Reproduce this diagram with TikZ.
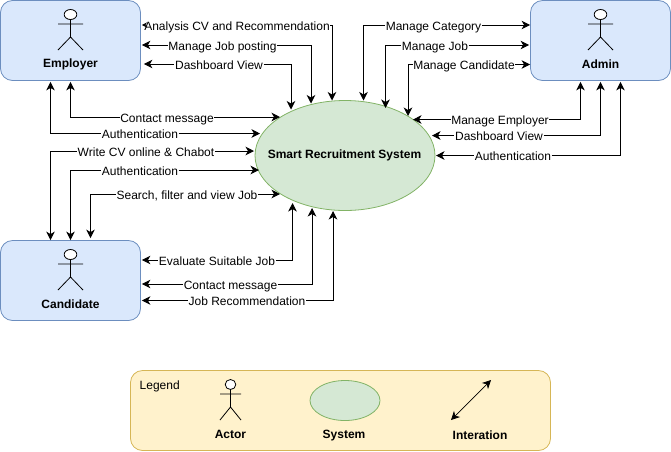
\documentclass[tikz,border=0pt]{standalone}
\usepackage{fontspec}
\setmainfont{Liberation Sans}
\usetikzlibrary{arrows.meta,shapes.geometric}
\definecolor{boxfill}{HTML}{DAE8FC}
\definecolor{boxline}{HTML}{6C8EBF}
\definecolor{sysfill}{HTML}{D5E8D4}
\definecolor{sysline}{HTML}{82B366}
\definecolor{legfill}{HTML}{FFF2CC}
\definecolor{legline}{HTML}{D6B656}
\tikzset{
  actorbox/.style={draw=boxline,fill=boxfill,rounded corners=12pt,minimum width=140pt,minimum height=80pt,line width=0.8pt},
  sysnode/.style={ellipse,draw=sysline,fill=sysfill,inner sep=0pt,line width=0.8pt},
  msg/.style={font=\fontsize{12}{14}\selectfont,inner xsep=0.5pt,inner ysep=0pt,text height=12pt,text depth=2pt},
  title/.style={font=\fontsize{12}{14}\selectfont\bfseries,inner sep=1pt},
  tipfrom/.style={line width=0.9pt,{Stealth[length=8.5pt,width=8.5pt,inset=2.5pt]}-},
  tipto/.style={line width=0.9pt,-{Stealth[length=8.5pt,width=8.5pt,inset=2.5pt]}},
  actor/.pic={
    \draw[line width=0.8pt] (0,-13) -- (0,0) (-12.5,0) -- (12.5,0) (-12.5,26) -- (0,13) -- (12.5,26) (0,0) -- (0,13);
    \draw[line width=0.8pt,fill=white] (0,-9.5) ellipse (6.3 and 5);
  }
}
\begin{document}
\begin{tikzpicture}[x=1pt,y=-1pt]
\useasboundingbox (0,0) rectangle (671,451);
% actors and system
\node[actorbox] (employer) at (70.5,40.5) {};
\node[actorbox] (admin) at (600.5,40.5) {};
\node[actorbox] (candidate) at (70.5,280.5) {};
\node[sysnode,minimum width=180pt,minimum height=110pt] (system) at (345,155.5) {};
\pic at (70.5,24) {actor};
\pic at (600.5,24) {actor};
\pic at (70.5,264) {actor};
\node[title] (employername) at (70.5,64.5) {Employer};
\node[title] (adminname) at (600.5,64.5) {Admin};
\node[title] (candidatename) at (70.5,304.5) {Candidate};
\node[title] (systemname) at (344.5,155) {Smart Recruitment System};
% employer
\node[msg] (analysis) at (237,25) {Analysis CV and Recommendation};
\draw[line width=0.9pt,{Stealth[length=5pt,width=5pt,inset=1.5pt]}-] ([shift={(1,-15.5)}]employer.east) -- (analysis);
\draw[tipto] (analysis) -| ([shift={(-13,-55)}]system.center);
\node[msg] (jobposting) at (222.5,45) {Manage Job posting};
\draw[tipfrom] ([shift={(1,4.5)}]employer.east) -- (jobposting);
\draw[tipto] (jobposting) -| ([shift={(-34,-52)}]system.center);
\node[msg] (dashemp) at (219,64) {Dashboard View};
\draw[tipfrom] ([shift={(3,23.5)}]employer.east) -- (dashemp);
\draw[tipto] (dashemp) -| ([shift={(-54,-46)}]system.center);
\node[msg] (contactemp) at (167,117) {Contact message};
\draw[tipfrom] ([shift={(0,1)}]employer.south) |- (contactemp);
\draw[tipto] (contactemp) -- ([shift={(-65,-38.5)}]system.center);
\node[msg] (authemp) at (140,133.5) {Authentication};
\draw[tipfrom] ([shift={(-20,1)}]employer.south) |- (authemp);
\draw[tipto] (authemp) -- ([shift={(-85,-22)}]system.center);
% candidate
\node[msg] (writecv) at (146,151) {Write CV online \& Chabot};
\draw[tipfrom] ([shift={(-20,0)}]candidate.north) |- (writecv);
\draw[tipto] (writecv) -- ([shift={(-91,-4.5)}]system.center);
\node[msg] (authcand) at (140,170) {Authentication};
\draw[tipfrom] (candidate.north) |- (authcand);
\draw[tipto] (authcand) -- ([shift={(-86,14.5)}]system.center);
\node[msg] (search) at (187,194) {Search, filter and view Job};
\draw[tipfrom] ([shift={(20,-2)}]candidate.north) |- (search);
\draw[tipto] (search) -- ([shift={(-65,38.5)}]system.center);
\node[msg] (evaluate) at (217,260) {Evaluate Suitable Job};
\draw[tipfrom] ([shift={(1,-20.5)}]candidate.east) -- (evaluate);
\draw[tipto] (evaluate) -| ([shift={(-52.5,47.5)}]system.center);
\node[msg] (contactcand) at (230.5,284) {Contact message};
\draw[tipfrom] ([shift={(1,3.5)}]candidate.east) -- (contactcand);
\draw[tipto] (contactcand) -| ([shift={(-33,52.5)}]system.center);
\node[msg] (recommend) at (247,300.5) {Job Recommendation};
\draw[tipfrom] ([shift={(1,20)}]candidate.east) -- (recommend);
\draw[tipto] (recommend) -| ([shift={(-12,55.5)}]system.center);
% admin
\node[msg] (category) at (433.5,25) {Manage Category};
\draw[tipfrom] ([shift={(18.5,-55)}]system.center) |- (category);
\draw[tipto] (category) -- ([shift={(0,-15.5)}]admin.west);
\node[msg] (managejob) at (435,45) {Manage Job};
\draw[tipfrom] ([shift={(40.5,-47.5)}]system.center) |- (managejob);
\draw[tipto] (managejob) -- ([shift={(-1,4.5)}]admin.west);
\node[msg] (managecand) at (464,64.5) {Manage Candidate};
\draw[tipfrom] ([shift={(63,-39.5)}]system.center) |- (managecand);
\draw[tipto] (managecand) -- ([shift={(0,24)}]admin.west);
\node[msg] (manageemp) at (500,119.5) {Manage Employer};
\draw[tipfrom] ([shift={(68,-36)}]system.center) -- (manageemp);
\draw[tipto] (manageemp) -| ([shift={(-20,1)}]admin.south);
\node[msg] (dashadmin) at (499,135.5) {Dashboard View};
\draw[tipfrom] ([shift={(87,-20)}]system.center) -- (dashadmin);
\draw[tipto] (dashadmin) -| ([shift={(0,1)}]admin.south);
\node[msg] (authadmin) at (513,155.5) {Authentication};
\draw[tipfrom] ([shift={(91,0)}]system.center) -- (authadmin);
\draw[tipto] (authadmin) -| ([shift={(20,1)}]admin.south);
% legend
\node[draw=legline,fill=legfill,rounded corners=12pt,minimum width=420pt,minimum height=80pt,line width=0.8pt] (legend) at (340.5,410.5) {};
\node[msg,anchor=west] (legendname) at (139,384) {Legend};
\pic[xscale=0.84] at (230.5,394) {actor};
\node[title] (actorname) at (230.5,434.5) {Actor};
\node[sysnode,minimum width=70pt,minimum height=40pt] (legsystem) at (345,400.5) {};
\node[title] (sysname) at (344,436) {System};
\coordinate (legA) at (451,420);
\coordinate (legB) at (491,380);
\draw[line width=0.7pt,{Stealth[length=8.5pt,width=8.5pt,inset=2.5pt]}-{Stealth[length=8.5pt,width=8.5pt,inset=2.5pt]}] (legA) -- (legB);
\node[title] (linkname) at (480,435.5) {Interation};
\end{tikzpicture}
\end{document}
